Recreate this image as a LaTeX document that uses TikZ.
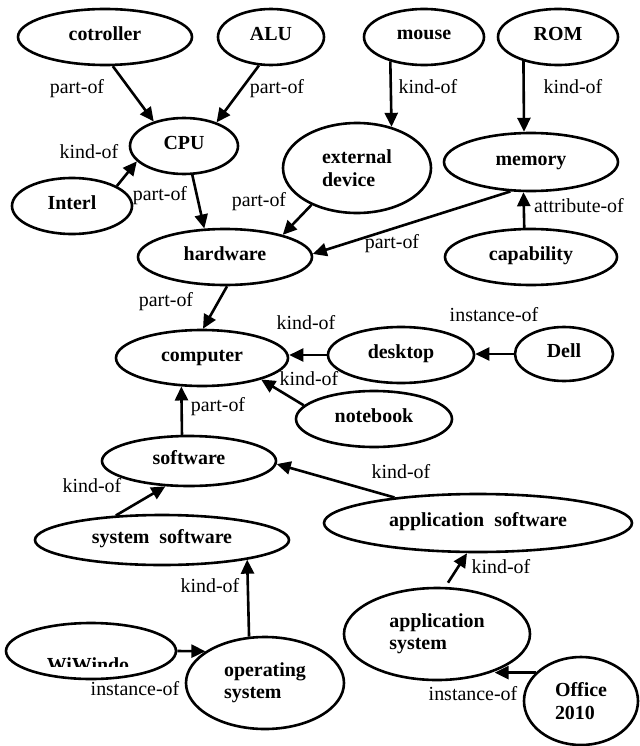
\documentclass[tikz,border=0pt]{standalone}
\usepackage{fontspec}
\setmainfont{Liberation Serif}
\usetikzlibrary{shapes.geometric,arrows.meta}
\newcommand\mystrut{\rule[-7bp]{0pt}{20bp}}
\begin{document}
\begin{tikzpicture}[x=1bp,y=-1bp,
  ell/.style={ellipse,draw,line width=2.6bp,inner sep=0pt,font=\fontsize{20}{22.5}\selectfont\bfseries,align=left},
  conn/.style={line width=2.6bp,-{Triangle[length=14bp,width=13bp]}},
  lbl/.style={font=\fontsize{20}{22}\selectfont,inner sep=0pt}]
\useasboundingbox (0,0) rectangle (640,746);
% nodes
\node[ell,minimum width=174bp,minimum height=56bp] (cot) at (105,37) {\mystrut cotroller};
\node[ell,minimum width=106bp,minimum height=56bp] (alu) at (271,37) {\mystrut ALU};
\node[ell,minimum width=120bp,minimum height=56bp] (mouse) at (424,37) {\mystrut mouse};
\node[ell,minimum width=120bp,minimum height=56bp] (rom) at (558,37) {\mystrut ROM};
\node[ell,minimum width=108bp,minimum height=56bp] (cpu) at (184,146) {\mystrut CPU};
\node[ell,minimum width=120bp,minimum height=56bp] (interl) at (72,206) {\mystrut Interl};
\node[ell,minimum width=148bp,minimum height=90bp] (ext) at (357,168) {external\\device};
\node[ell,minimum width=174bp,minimum height=58bp] (mem) at (531,162) {\mystrut memory};
\node[ell,minimum width=174bp,minimum height=56bp] (hw) at (225,257) {\mystrut hardware};
\node[ell,minimum width=172bp,minimum height=56bp] (cap) at (531,257) {\mystrut capability};
\node[ell,minimum width=172bp,minimum height=56bp] (comp) at (202,358) {\mystrut computer};
\node[ell,minimum width=146bp,minimum height=56bp] (desk) at (401,355) {\mystrut desktop};
\node[ell,minimum width=98bp,minimum height=54bp] (dell) at (564,354) {\mystrut Dell};
\node[ell,minimum width=156bp,minimum height=56bp] (note) at (374,419) {\mystrut notebook};
\node[ell,minimum width=174bp,minimum height=50bp] (soft) at (189,461) {\mystrut software};
\node[ell,minimum width=254bp,minimum height=50bp] (sys) at (162,540) {\mystrut system~~software};
\node[ell,minimum width=308bp,minimum height=58bp] (appsw) at (478,523) {\mystrut application~~software};
\node[ell,minimum width=158bp,minimum height=92bp] (os) at (265,683) {operating\\system};
\node[ell,minimum width=170bp,minimum height=56bp] (win) at (91,651) {};
\node[ell,minimum width=186bp,minimum height=92bp] (appsys) at (437,634) {application\\system};
\node[ell,minimum width=114bp,minimum height=88bp] (office) at (581,701) {Office\\2010};
\begin{scope}
  \clip (0,600) rectangle (200,666);
  \node[font=\fontsize{20}{22.5}\selectfont\bfseries,anchor=base,inner sep=0pt] (wint) at (88,671) {WiWindo};
\end{scope}
% connectors
\draw[conn] (cot.-75.5) -- (cpu.141);
\draw[conn] (alu.247) -- (cpu.36.3);
\draw[conn] (interl.24.5) -- (cpu.198.9);
\draw[conn] (cpu.-74.6) -- (hw.126);
\draw[conn] (mouse.216.5) -- (ext.50.3);
\draw[conn] (rom.215.3) -- (mem.103.2);
\draw[conn] (ext.219.4) -- (hw.21.8);
\draw[conn] (mem.235.9) -- (hw.2);
\draw[conn] (cap.103.6) -- (mem.256.8);
\draw[conn] (hw.274) -- (comp.88);
\draw[conn] (desk.west) -- (desk.west -| comp.east);
\draw[conn] (dell.west) -- (dell.west -| desk.east);
\draw[conn] (note.169) -- (comp.340.2);
\draw[conn] (soft.105) -- (comp.234.7);
\draw[conn] (sys.152.8) -- (soft.227.3);
\draw[conn] (appsw.163.8) -- (soft.358.7);
\draw[conn] (os.109.2) -- (sys.347.6);
\draw[conn] (win.east) -- (os.152.7);
\draw[conn,shorten <=5bp] (appsys.80) -- (appsw.250);
\draw[conn] (office.148) -- (office.148 -| appsys.327);
% labels
\node[lbl] (l1) at (77,90) {\mystrut part-of};
\node[lbl] (l2) at (277,90) {\mystrut part-of};
\node[lbl] (l3) at (428,90) {\mystrut kind-of};
\node[lbl] (l4) at (573,90) {\mystrut kind-of};
\node[lbl] (l5) at (89,155) {\mystrut kind-of};
\node[lbl] (l6) at (160,197) {\mystrut part-of};
\node[lbl] (l7) at (259,203) {\mystrut part-of};
\node[lbl] (l8) at (392,245) {\mystrut part-of};
\node[lbl] (l9) at (579,209) {\mystrut attribute-of};
\node[lbl] (l10) at (166,303) {\mystrut part-of};
\node[lbl] (l11) at (306,326) {\mystrut kind-of};
\node[lbl] (l12) at (494,318) {\mystrut instance-of};
\node[lbl] (l13) at (309,382) {\mystrut kind-of};
\node[lbl] (l14) at (218,408) {\mystrut part-of};
\node[lbl] (l15) at (401,475) {\mystrut kind-of};
\node[lbl] (l16) at (92,489) {\mystrut kind-of};
\node[lbl] (l17) at (210,589) {\mystrut kind-of};
\node[lbl] (l18) at (501,570) {\mystrut kind-of};
\node[lbl] (l19) at (135,692) {\mystrut instance-of};
\node[lbl] (l20) at (473,697) {\mystrut instance-of};
\end{tikzpicture}
\end{document}
